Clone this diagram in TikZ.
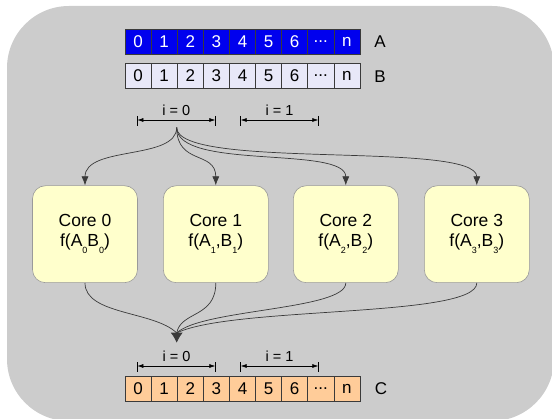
\documentclass[tikz,border=0pt]{standalone}
\usepackage{fontspec}
\setmainfont{Liberation Sans}
\usetikzlibrary{arrows.meta,calc}
\definecolor{bg}{HTML}{CCCCCC}
\definecolor{ablue}{HTML}{0000EE}
\definecolor{blav}{HTML}{E8E8F8}
\definecolor{cpeach}{HTML}{FFCC99}
\definecolor{coreyel}{HTML}{FFFFCC}
\definecolor{coreedge}{HTML}{9A9A9A}
\definecolor{wire}{HTML}{3A3A3A}
\newcommand\sbs[1]{\raisebox{-7.5pt}{\fontsize{9}{9}\selectfont #1}}
\newcommand\tdots{.{}.{}.}
\begin{document}
\begin{tikzpicture}[x=1pt,y=-1pt,
  cell/.style={draw=wire, line width=0.6pt, minimum width=26.1pt, minimum height=25pt,
    inner sep=0pt, outer sep=0pt, font=\fontsize{17}{17}\selectfont},
  acell/.style={cell, fill=ablue, text=white},
  bcell/.style={cell, fill=blav, text=black},
  ccell/.style={cell, fill=cpeach, text=black},
  rowlabel/.style={font=\fontsize{17}{17}\selectfont, inner sep=0pt},
  corebox/.style={draw=coreedge, line width=0.6pt, fill=coreyel, rounded corners=13pt,
    minimum width=105pt, minimum height=97pt, inner sep=0pt, align=center,
    font=\fontsize{17.5}{19.5}\selectfont},
  dimlabel/.style={font=\fontsize{14.5}{14.5}\selectfont, inner sep=0pt},
  dimline/.style={line width=0.6pt, {Latex[length=6pt,width=4pt]}-{Latex[length=6pt,width=4pt]}},
  tick/.style={line width=0.6pt},
  flow/.style={draw=wire, line width=0.7pt, -{Latex[length=9pt,width=7pt]}},
  merge/.style={draw=wire, line width=0.7pt},
  mergetip/.style={draw=wire, line width=0.7pt, -{Latex[length=10pt,width=12pt]}}
]
\useasboundingbox (0,0) rectangle (552,419);
\fill[bg, rounded corners=62pt] (7,6) rectangle (554,421);

% arrays
\foreach \i/\t in {0/0,1/1,2/2,3/3,4/4,5/5,6/6,7/\tdots,8/n}{
  \node[acell] (A\i) at ({125+26.11*(\i+0.5)},41.5) {\t};
  \node[bcell] (B\i) at ({125+26.11*(\i+0.5)},76) {\t};
  \node[ccell] (C\i) at ({125+26.11*(\i+0.5)},388.5) {\t};
}
\node[rowlabel] (la) at (380,42) {A};
\node[rowlabel] (lb) at (380,77) {B};
\node[rowlabel] (lc) at (381,388.5) {C};

% top dimension lines
\coordinate (t0l) at (137.3,120); \coordinate (t0r) at (215.3,120);
\coordinate (t1l) at (240.7,120); \coordinate (t1r) at (318.3,120);
\foreach \c in {t0l,t0r,t1l,t1r}{\draw[tick] ($(\c)+(0,-4)$) -- ($(\c)+(0,6.5)$);}
\draw[dimline] (t0l) -- (t0r);
\draw[dimline] (t1l) -- (t1r);
\node[dimlabel] (ti0) at (176.3,110) {i = 0};
\node[dimlabel] (ti1) at (279.5,110) {i = 1};

% bottom dimension lines
\coordinate (b0l) at (137.3,366); \coordinate (b0r) at (215.3,366);
\coordinate (b1l) at (240.7,366); \coordinate (b1r) at (318.3,366);
\foreach \c in {b0l,b0r,b1l,b1r}{\draw[tick] ($(\c)+(0,-3.5)$) -- ($(\c)+(0,6.5)$);}
\draw[dimline] (b0l) -- (b0r);
\draw[dimline] (b1l) -- (b1r);
\node[dimlabel] (bi0) at (176.5,356) {i = 0};
\node[dimlabel] (bi1) at (279.5,356) {i = 1};

% cores
\node[corebox] (core0) at (85,234.2) {Core 0\\f(A\sbs{0}B\sbs{0})};
\node[corebox] (core1) at (215.8,234.2) {Core 1\\f(A\sbs{1},B\sbs{1})};
\node[corebox] (core2) at (345.8,234.2) {Core 2\\f(A\sbs{2},B\sbs{2})};
\node[corebox] (core3) at (476.8,234.2) {Core 3\\f(A\sbs{3},B\sbs{3})};

% distribution
\coordinate (src) at (176.7,127.5);
\draw[flow] (src) .. controls ($(src)+(0,33)$) and ($(core0.north)+(0,-40)$) .. (core0.north);
\draw[flow] (src) .. controls ($(src)+(0,38)$) and ($(core1.north)+(0,-35)$) .. (core1.north);
\draw[flow] (src) .. controls ($(src)+(0,43)$) and ($(core2.north)+(0,-40)$) .. (core2.north);
\draw[flow] (src) .. controls ($(src)+(0,43)$) and ($(core3.north)+(0,-45)$) .. (core3.north);

% collection
\coordinate (sinktop) at (176.7,333);
\coordinate (sink) at (176.7,342.7);
\draw[merge] (core0.south) .. controls ($(core0.south)+(0,32)$) and ($(sinktop)+(-22,-22)$) .. (sinktop);
\draw[merge] (core1.south) .. controls ($(core1.south)+(0,35)$) and ($(sinktop)+(4,-22)$) .. (sinktop);
\draw[merge] (core2.south) .. controls ($(core2.south)+(0,27)$) and ($(sinktop)+(25,-24)$) .. (sinktop);
\draw[merge] (core3.south) .. controls ($(core3.south)+(0,35)$) and ($(sinktop)+(55,-27)$) .. (sinktop);
\draw[mergetip] (sinktop) -- (sink);
\end{tikzpicture}
\end{document}
